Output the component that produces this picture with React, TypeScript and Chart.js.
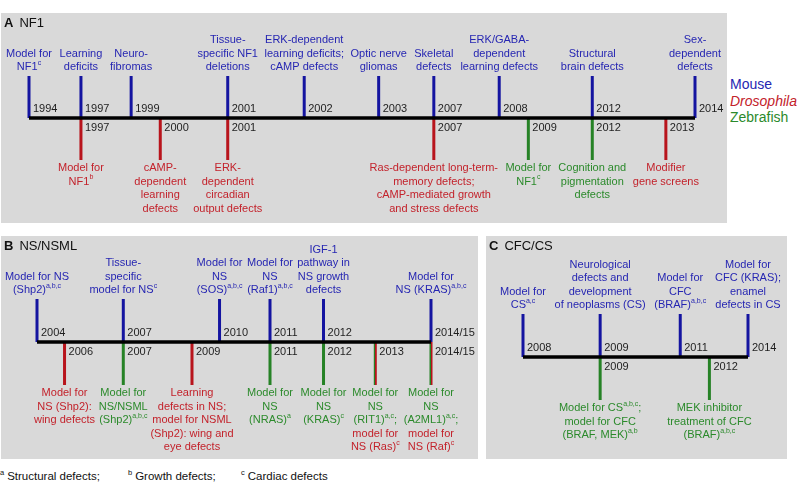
import React, { useEffect, useRef } from 'react';
import { Chart, registerables } from 'chart.js';
Chart.register(...registerables);

const FONT = '"Liberation Sans", Arial, Helvetica, sans-serif';
const MAIN_FONT = `11px ${FONT}`;
const SUP_FONT = `7px ${FONT}`;
const PANEL_BG = '#d9d9d9';
const COLORS: Record<string, { text: string; line: string }> = {
  mouse: { text: '#2626b2', line: '#1414a0' },
  fly: { text: '#c3222b', line: '#b8141c' },
  fish: { text: '#2b8a2b', line: '#268226' },
};

// ---------- Panel A: NF1 ----------
const NF1_MOUSE_YEARS = ['1994', '1997', '1999', '2001', '2002', '2003', '2007', '2008', '2012', '2014'];
const NF1_MOUSE_FINDINGS = [
  ['Model for', 'NF1^{c}'],
  ['Learning', 'deficits'],
  ['Neuro-', 'fibromas'],
  ['Tissue-', 'specific NF1', 'deletions'],
  ['ERK-dependent', 'learning deficits;', 'cAMP defects'],
  ['Optic nerve', 'gliomas'],
  ['Skeletal', 'defects'],
  ['ERK/GABA-', 'dependent', 'learning defects'],
  ['Structural', 'brain defects'],
  ['Sex-', 'dependent', 'defects'],
];
const NF1_LOWER_YEARS = ['1997', '2000', '2001', '2007', '2009', '2012', '2013'];
const NF1_LOWER_MODELS = ['fly', 'fly', 'fly', 'fly', 'fish', 'fish', 'fly'];
const NF1_LOWER_FINDINGS = [
  ['Model for', 'NF1^{b}'],
  ['cAMP-', 'dependent', 'learning', 'defects'],
  ['ERK-', 'dependent', 'circadian', 'output defects'],
  ['Ras-dependent long-term-', 'memory defects;', 'cAMP-mediated growth', 'and stress defects'],
  ['Model for', 'NF1^{c}'],
  ['Cognition and', 'pigmentation', 'defects'],
  ['Modifier', 'gene screens'],
];

// ---------- Panel B: NS/NSML ----------
const NS_MOUSE_YEARS = ['2004', '2007', '2010', '2011', '2012', '2014/15'];
const NS_MOUSE_FINDINGS = [
  ['Model for NS', '(Shp2)^{a,b,c}'],
  ['Tissue-', 'specific', 'model for NS^{c}'],
  ['Model for', 'NS', '(SOS)^{a,b,c}'],
  ['Model for', 'NS', '(Raf1)^{a,b,c}'],
  ['IGF-1', 'pathway in', 'NS growth', 'defects'],
  ['Model for', 'NS (KRAS)^{a,b,c}'],
];
const NS_LOWER_YEARS = ['2006', '2007', '2009', '2011', '2012', '2013', '2014/15'];
const NS_LOWER_MODELS: (string | string[])[] = [
  'fly',
  'fish',
  'fly',
  'fish',
  'fish',
  ['fish', 'fish', 'fish', 'fly', 'fly'],
  ['fish', 'fish', 'fish', 'fly', 'fly'],
];
const NS_LOWER_FINDINGS = [
  ['Model for', 'NS (Shp2):', 'wing defects'],
  ['Model for', 'NS/NSML', '(Shp2)^{a,b,c}'],
  ['Learning', 'defects in NS;', 'model for NSML', '(Shp2): wing and', 'eye defects'],
  ['Model for', 'NS', '(NRAS)^{a}'],
  ['Model for', 'NS', '(KRAS)^{c}'],
  ['Model for', 'NS', '(RIT1)^{a,c};', 'model for', 'NS (Ras)^{c}'],
  ['Model for', 'NS', '(A2ML1)^{a,c};', 'model for', 'NS (Raf)^{c}'],
];

// ---------- Panel C: CFC/CS ----------
const CFC_MOUSE_YEARS = ['2008', '2009', '2011', '2014'];
const CFC_MOUSE_FINDINGS = [
  ['Model for', 'CS^{a,c}'],
  ['Neurological', 'defects and', 'development', 'of neoplasms (CS)'],
  ['Model for', 'CFC', '(BRAF)^{a,b,c}'],
  ['Model for', 'CFC (KRAS);', 'enamel', 'defects in CS'],
];
const CFC_LOWER_YEARS = ['2009', '2012'];
const CFC_LOWER_MODELS = ['fish', 'fish'];
const CFC_LOWER_FINDINGS = [
  ['Model for CS^{a,b,c};', 'model for CFC', '(BRAF, MEK)^{a,b}'],
  ['MEK inhibitor', 'treatment of CFC', '(BRAF)^{a,b,c}'],
];

const LEGEND_NAMES = ['Mouse', 'Drosophila', 'Zebrafish'];
const FOOTNOTES = [
  ['a', 'Structural defects;'],
  ['b', 'Growth defects;'],
  ['c', 'Cardiac defects'],
];

// ---------- rich text helpers ----------
type Seg = { t: string; sup: boolean };
function parseRich(s: string): Seg[] {
  const segs: Seg[] = [];
  const re = /\^\{([^}]*)\}/g;
  let last = 0;
  let m: RegExpExecArray | null;
  while ((m = re.exec(s))) {
    if (m.index > last) segs.push({ t: s.slice(last, m.index), sup: false });
    segs.push({ t: m[1], sup: true });
    last = re.lastIndex;
  }
  if (last < s.length) segs.push({ t: s.slice(last), sup: false });
  return segs;
}
function richWidth(ctx: CanvasRenderingContext2D, s: string) {
  let w = 0;
  for (const seg of parseRich(s)) {
    ctx.font = seg.sup ? SUP_FONT : MAIN_FONT;
    w += ctx.measureText(seg.t).width;
  }
  return w;
}
function drawRich(ctx: CanvasRenderingContext2D, s: string, cx: number, cy: number, color: string) {
  const w = richWidth(ctx, s);
  let x = cx - w / 2;
  ctx.fillStyle = color;
  ctx.textAlign = 'left';
  ctx.textBaseline = 'middle';
  for (const seg of parseRich(s)) {
    ctx.font = seg.sup ? SUP_FONT : MAIN_FONT;
    ctx.fillText(seg.t, x, seg.sup ? cy - 4 : cy);
    x += ctx.measureText(seg.t).width;
  }
}

// Lay out the time slots along the axis so that labels on each side do not collide
function layoutSlots(
  ctx: CanvasRenderingContext2D,
  topYears: string[],
  topLabels: string[][],
  botYears: string[],
  botLabels: string[][]
) {
  const slots = Array.from(new Set([...topYears, ...botYears])).sort(
    (a, b) => parseFloat(a) - parseFloat(b) || a.localeCompare(b)
  );
  const labelW = (lines: string[]) => Math.max(...lines.map((l) => richWidth(ctx, l)));
  const GAP = 10;
  const pos: Record<string, number> = {};
  let lastTop: { p: number; w: number } | null = null;
  let lastBot: { p: number; w: number } | null = null;
  let prev: { p: number; yw: number } | null = null;
  for (const s of slots) {
    const ti = topYears.indexOf(s);
    const bi = botYears.indexOf(s);
    const tw = ti >= 0 ? labelW(topLabels[ti]) : 0;
    const bw = bi >= 0 ? labelW(botLabels[bi]) : 0;
    let p = 0;
    if (prev) p = Math.max(p, prev.p + prev.yw + 6);
    if (ti >= 0 && lastTop) p = Math.max(p, lastTop.p + (lastTop.w + tw) / 2 + GAP);
    if (bi >= 0 && lastBot) p = Math.max(p, lastBot.p + (lastBot.w + bw) / 2 + GAP);
    pos[s] = p;
    ctx.font = MAIN_FONT;
    prev = { p, yw: ctx.measureText(s).width };
    if (ti >= 0) lastTop = { p, w: tw };
    if (bi >= 0) lastBot = { p, w: bw };
  }
  return { pos, slots };
}

type TimelineProps = {
  topYears: string[];
  topLabels: string[][];
  botYears: string[];
  botModels: (string | string[])[];
  botLabels: string[][];
  width: number;
  height: number;
  pad: { left: number; right: number; top: number; bottom: number };
};

function Timeline(props: TimelineProps) {
  const ref = useRef<HTMLCanvasElement>(null);
  useEffect(() => {
    const canvas = ref.current!;
    const mctx = canvas.getContext('2d')!;
    const { topYears, topLabels, botYears, botModels, botLabels } = props;
    const { pos, slots } = layoutSlots(mctx, topYears, topLabels, botYears, botLabels);
    const maxX = pos[slots[slots.length - 1]];

    const datasets: any[] = [];
    datasets.push({
      data: [
        { x: 0, y: 0 },
        { x: maxX, y: 0 },
      ],
      borderColor: '#000',
      borderWidth: 3.5,
      clip: false,
    });
    topYears.forEach((yr) => {
      datasets.push({
        data: [
          { x: pos[yr], y: 0 },
          { x: pos[yr], y: 1 },
        ],
        borderColor: COLORS.mouse.line,
        borderWidth: 3,
        clip: false,
      });
    });
    botYears.forEach((yr, i) => {
      const model = botModels[i];
      let color: any;
      if (Array.isArray(model)) {
        const c1 = COLORS[model[0]].line;
        const c2 = COLORS[model[model.length - 1]].line;
        color = (c: any) => {
          const chart = c.chart;
          const sc = chart.scales && chart.scales.x;
          if (!sc || !chart.chartArea) return c1;
          const px = sc.getPixelForValue(pos[yr]);
          const g = chart.ctx.createLinearGradient(px - 1.5, 0, px + 1.5, 0);
          g.addColorStop(0, c1);
          g.addColorStop(0.5, c1);
          g.addColorStop(0.5, c2);
          g.addColorStop(1, c2);
          return g;
        };
      } else {
        color = COLORS[model].line;
      }
      datasets.push({
        data: [
          { x: pos[yr], y: 0 },
          { x: pos[yr], y: -1 },
        ],
        borderColor: color,
        borderWidth: 3,
        clip: false,
      });
    });

    const labelPlugin = {
      id: 'timelineLabels',
      afterDatasetsDraw(chart: any) {
        const ctx: CanvasRenderingContext2D = chart.ctx;
        const xs = chart.scales.x;
        const ys = chart.scales.y;
        const axisY = ys.getPixelForValue(0);
        const topY = ys.getPixelForValue(1);
        const botY = ys.getPixelForValue(-1);
        const LH = 13.5;
        ctx.save();
        topYears.forEach((yr, i) => {
          const px = xs.getPixelForValue(pos[yr]);
          const lines = topLabels[i];
          lines.forEach((ln, k) => {
            const cy = topY - 9 - (lines.length - 1 - k) * LH;
            drawRich(ctx, ln, px, cy, COLORS.mouse.text);
          });
          ctx.font = MAIN_FONT;
          ctx.fillStyle = '#1e1e1e';
          ctx.textAlign = 'left';
          ctx.textBaseline = 'middle';
          ctx.fillText(yr, px + 4, axisY - 9);
        });
        botYears.forEach((yr, i) => {
          const px = xs.getPixelForValue(pos[yr]);
          const lines = botLabels[i];
          const model = botModels[i];
          lines.forEach((ln, k) => {
            const org = Array.isArray(model) ? model[k] : model;
            drawRich(ctx, ln, px, botY + 8 + k * LH, COLORS[org].text);
          });
          ctx.font = MAIN_FONT;
          ctx.fillStyle = '#1e1e1e';
          ctx.textAlign = 'left';
          ctx.textBaseline = 'middle';
          ctx.fillText(yr, px + 4, axisY + 10);
        });
        ctx.restore();
      },
    };

    const chart = new Chart(canvas, {
      type: 'line',
      data: { datasets },
      options: {
        animation: false,
        responsive: false,
        devicePixelRatio: 1,
        events: [],
        layout: { padding: props.pad },
        scales: {
          x: { type: 'linear', display: false, min: 0, max: maxX },
          y: { type: 'linear', display: false, min: -1, max: 1 },
        },
        elements: {
          point: { radius: 0 },
          line: { tension: 0, borderCapStyle: 'butt' },
        },
        plugins: { legend: { display: false }, tooltip: { enabled: false } },
      } as any,
      plugins: [labelPlugin],
    });
    return () => chart.destroy();
  }, []);
  return (
    <canvas
      ref={ref}
      width={props.width}
      height={props.height}
      style={{ position: 'absolute', left: 0, top: 0, width: props.width, height: props.height }}
    />
  );
}

function Title({ letter, name, left }: { letter: string; name: string; left: number }) {
  return (
    <div
      style={{
        position: 'absolute',
        left,
        top: 3,
        fontSize: 13,
        lineHeight: '14px',
        color: '#111',
        whiteSpace: 'nowrap',
      }}
    >
      <b>{letter}</b>
      <span style={{ marginLeft: 6 }}>{name}</span>
    </div>
  );
}

export default function App() {
  useEffect(() => {
    document.body.style.margin = '0';
  }, []);
  const legendColors = [COLORS.mouse.text, COLORS.fly.text, COLORS.fish.text];
  const footLeft = [0, 128, 241];
  return (
    <div
      style={{
        position: 'absolute',
        left: 0,
        top: 0,
        width: 797,
        height: 486,
        background: '#fff',
        fontFamily: FONT,
        overflow: 'hidden',
      }}
    >
      {/* Panel A */}
      <div style={{ position: 'absolute', left: 1, top: 13, width: 726, height: 210, background: PANEL_BG }}>
        <Timeline
          topYears={NF1_MOUSE_YEARS}
          topLabels={NF1_MOUSE_FINDINGS}
          botYears={NF1_LOWER_YEARS}
          botModels={NF1_LOWER_MODELS}
          botLabels={NF1_LOWER_FINDINGS}
          width={726}
          height={210}
          pad={{ left: 28, right: 32, top: 63, bottom: 63 }}
        />
        <Title letter="A" name="NF1" left={3} />
      </div>
      {LEGEND_NAMES.map((n, i) => (
        <div
          key={n}
          style={{
            position: 'absolute',
            left: 730,
            top: 76 + i * 16.5,
            fontSize: 14,
            lineHeight: '16px',
            color: legendColors[i],
            fontStyle: i === 1 ? 'italic' : 'normal',
          }}
        >
          {n}
        </div>
      ))}
      {/* Panel B */}
      <div style={{ position: 'absolute', left: 1, top: 236, width: 477, height: 223, background: PANEL_BG }}>
        <Timeline
          topYears={NS_MOUSE_YEARS}
          topLabels={NS_MOUSE_FINDINGS}
          botYears={NS_LOWER_YEARS}
          botModels={NS_LOWER_MODELS}
          botLabels={NS_LOWER_FINDINGS}
          width={477}
          height={223}
          pad={{ left: 36, right: 47, top: 63, bottom: 74 }}
        />
        <Title letter="B" name="NS/NSML" left={3} />
      </div>
      {/* Panel C */}
      <div style={{ position: 'absolute', left: 486, top: 236, width: 301, height: 223, background: PANEL_BG }}>
        <Timeline
          topYears={CFC_MOUSE_YEARS}
          topLabels={CFC_MOUSE_FINDINGS}
          botYears={CFC_LOWER_YEARS}
          botModels={CFC_LOWER_MODELS}
          botLabels={CFC_LOWER_FINDINGS}
          width={301}
          height={223}
          pad={{ left: 37, right: 39, top: 78, bottom: 59 }}
        />
        <Title letter="C" name="CFC/CS" left={3} />
      </div>
      {FOOTNOTES.map(([s, t], i) => (
        <div
          key={s}
          style={{
            position: 'absolute',
            left: footLeft[i],
            top: 469,
            fontSize: 11.5,
            lineHeight: '14px',
            color: '#111',
            whiteSpace: 'nowrap',
          }}
        >
          <span style={{ fontSize: 7.5, position: 'relative', top: -5 }}>{s}</span>
          <span style={{ marginLeft: 3 }}>{t}</span>
        </div>
      ))}
    </div>
  );
}
